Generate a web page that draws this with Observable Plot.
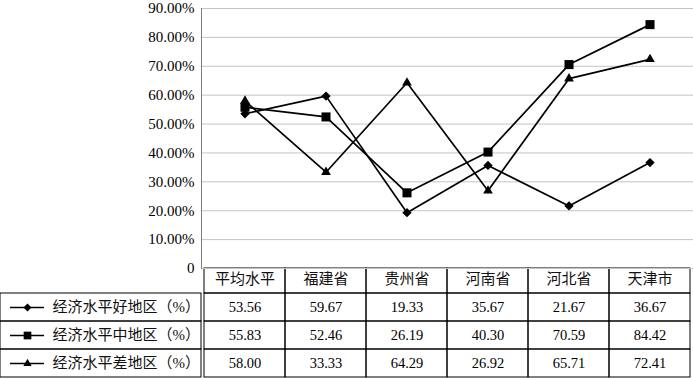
<!DOCTYPE html>
<html><head><meta charset="utf-8">
<script src="https://cdn.jsdelivr.net/npm/d3@7"></script>
<script src="https://cdn.jsdelivr.net/npm/@observablehq/plot@0.6"></script>
<style>
html,body{margin:0;padding:0;background:#fff;}
#chart{position:relative;width:693px;height:378px;background:#fff;overflow:hidden;}
#chart > svg{position:absolute;background:transparent !important;overflow:visible;}
</style></head><body><div id="chart"></div>
<script>
const categories = ["平均水平", "福建省", "贵州省", "河南省", "河北省", "天津市"];
const seriesNames = ["经济水平好地区（%）", "经济水平中地区（%）", "经济水平差地区（%）"];
const goodValues = [53.56, 59.67, 19.33, 35.67, 21.67, 36.67];
const midValues  = [55.83, 52.46, 26.19, 40.30, 70.59, 84.42];
const poorValues = [58.00, 33.33, 64.29, 26.92, 65.71, 72.41];
const yTicks = [0, 10, 20, 30, 40, 50, 60, 70, 80, 90];
const headerKey = "header";

const seriesValues = [goodValues, midValues, poorValues];
const symbols = ["diamond2", "square", "triangle"];
const symbolR = [4.2, 5.1, 3.6];
const rows = seriesNames.flatMap((s, si) => categories.map((c, ci) => ({series: s, category: c, value: seriesValues[si][ci], si})));
const rowKeys = [headerKey, ...seriesNames];
const headerCells = categories.map(c => ({row: headerKey, category: c}));
const bodyCells = seriesNames.flatMap(r => categories.map(c => ({row: r, category: c})));

const FONT = '"Liberation Serif", "Times New Roman", "DejaVu Serif", "Noto Sans CJK SC", serif';
const svgStyle = {fontFamily: FONT, fontSize: "15px", background: "transparent", overflow: "visible", color: "black"};

const plotA = Plot.plot({
  width: 693, height: 278, marginTop: 8, marginBottom: 10, marginLeft: 201, marginRight: 0,
  style: svgStyle,
  x: {type: "band", domain: categories, range: [201, 692], padding: 0, axis: null},
  y: {domain: [0, 90], axis: null},
  marks: [
    Plot.ruleY(yTicks, {stroke: "#c4c4c4", strokeWidth: 1}),
    Plot.frame({anchor: "left", stroke: "#7f7f7f"}),
    Plot.axisY(yTicks, {tickSize: 0, tickPadding: 7, tickFormat: d => d === 0 ? "0" : d.toFixed(2) + "%", label: null, fontSize: 15, fontFamily: FONT, fill: "black"}),
    Plot.line(rows, {x: "category", y: "value", z: "series", stroke: "black", strokeWidth: 1.7}),
    ...symbols.map((sym, i) => Plot.dot(rows.filter(d => d.si === i), {x: "category", y: "value", symbol: sym, r: symbolR[i], fill: "black", stroke: null}))
  ]
});

const plotB = Plot.plot({
  width: 493, height: 110, margin: 0,
  style: svgStyle,
  x: {type: "band", domain: categories, range: [0, 491], padding: 0, axis: null},
  y: {type: "band", domain: rowKeys, range: [-3, 109], padding: 0, axis: null},
  marks: [
    Plot.cell(headerCells, {x: "category", y: "row", fill: "none", stroke: "black", strokeWidth: 1, inset: 0, insetTop: 3}),
    Plot.cell(bodyCells, {x: "category", y: "row", fill: "none", stroke: "black", strokeWidth: 1, inset: 0}),
    Plot.text(categories, {x: d => d, y: () => headerKey, text: d => d, fontSize: 15, fontFamily: FONT, fill: "#111"}),
    Plot.text(rows, {x: "category", y: "series", text: d => d.value.toFixed(2), fontSize: 14.5, fontFamily: FONT, fill: "black"})
  ]
});

const plotC = Plot.plot({
  width: 201, height: 110, margin: 0,
  style: svgStyle,
  y: {type: "band", domain: rowKeys, range: [-3, 109], padding: 0, axis: null},
  marks: [
    Plot.cell(seriesNames, {y: d => d, fill: "none", stroke: "black", strokeWidth: 1, inset: 0}),
    Plot.ruleY(seriesNames, {y: d => d, insetLeft: 10, insetRight: 157, stroke: "black", strokeWidth: 1.5}),
    ...symbols.map((sym, i) => Plot.dot([seriesNames[i]], {y: d => d, frameAnchor: "left", dx: 27, symbol: sym, r: symbolR[i] * 0.85, fill: "black", stroke: null})),
    Plot.text(seriesNames, {y: d => d, frameAnchor: "left", dx: 52, textAnchor: "start", fontSize: 15, fontFamily: FONT, fill: "#111"})
  ]
});

const root = document.getElementById("chart");
plotC.style.position = "absolute"; plotC.style.left = "0px"; plotC.style.top = "268px";
plotB.style.position = "absolute"; plotB.style.left = "201px"; plotB.style.top = "268px";
plotA.style.position = "absolute"; plotA.style.left = "0px"; plotA.style.top = "0px"; plotA.style.zIndex = "2";
root.append(plotC, plotB, plotA);
</script></body></html>
